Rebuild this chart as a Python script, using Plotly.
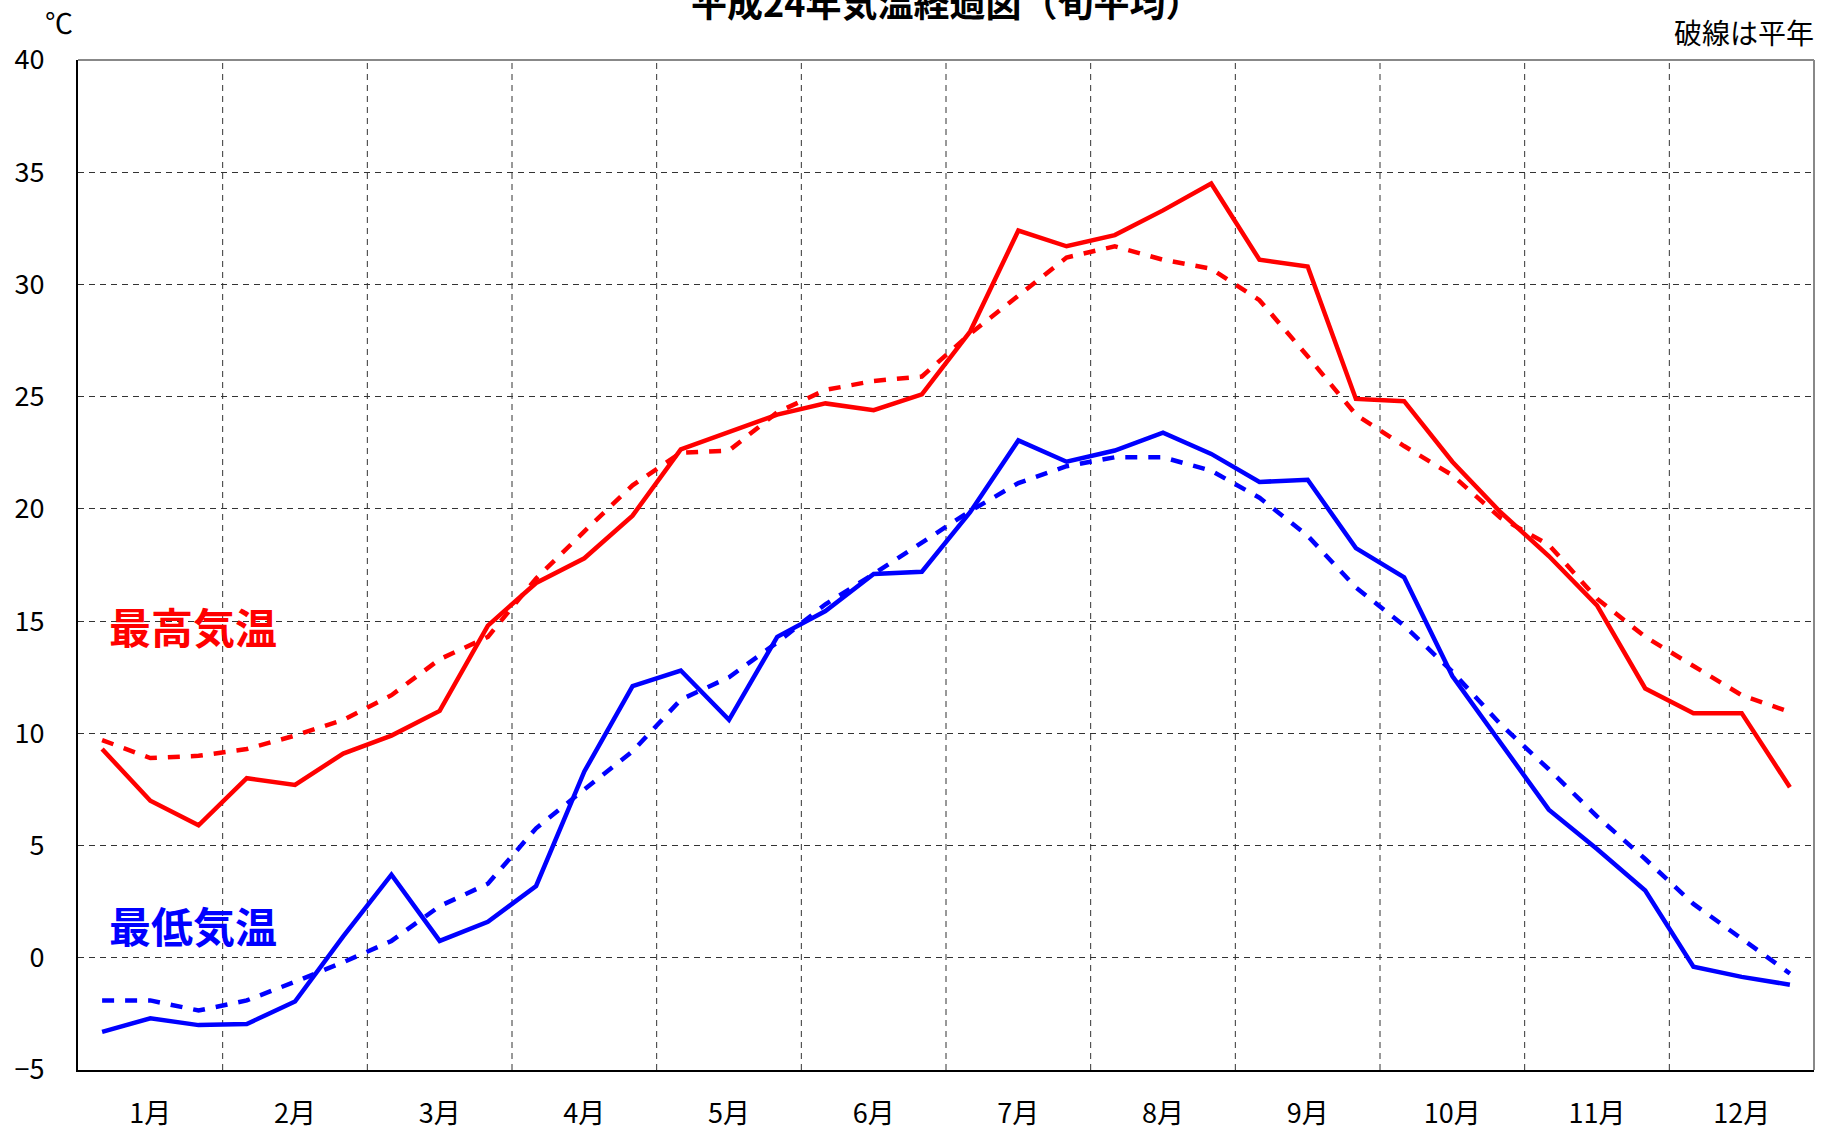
import plotly.graph_objects as go

# 36 旬 (10-day periods), Jan上旬 ... Dec下旬
max_2012 = [9.3, 7.0, 5.9, 8.0, 7.7, 9.1, 9.9, 11.0, 14.8, 16.7, 17.8, 19.7,
            22.65, 23.4, 24.2, 24.7, 24.4, 25.1, 27.9, 32.4, 31.7, 32.2, 33.3, 34.5,
            31.1, 30.8, 24.9, 24.8, 22.1, 19.85, 17.9, 15.7, 12.0, 10.9, 10.9, 7.6]
max_normal = [9.7, 8.9, 9.0, 9.3, 9.9, 10.6, 11.7, 13.3, 14.3, 16.9, 19.0, 21.05,
              22.5, 22.6, 24.3, 25.3, 25.7, 25.9, 27.8, 29.5, 31.2, 31.7, 31.1, 30.7,
              29.3, 26.8, 24.2, 22.8, 21.5, 19.6, 18.4, 16.0, 14.3, 13.0, 11.7, 10.95]
min_2012 = [-3.3, -2.7, -3.0, -2.95, -1.95, 0.95, 3.7, 0.75, 1.6, 3.2, 8.3, 12.1,
            12.8, 10.6, 14.3, 15.45, 17.1, 17.2, 19.85, 23.05, 22.1, 22.6, 23.4, 22.45,
            21.2, 21.3, 18.25, 16.95, 12.55, 9.55, 6.6, 4.85, 3.0, -0.4, -0.85, -1.2]
min_normal = [-1.9, -1.9, -2.35, -1.9, -1.07, -0.2, 0.75, 2.3, 3.3, 5.77, 7.5, 9.2,
              11.5, 12.5, 14.05, 15.75, 17.1, 18.5, 19.9, 21.15, 21.9, 22.3, 22.3, 21.7,
              20.5, 18.8, 16.5, 14.8, 12.75, 10.4, 8.4, 6.3, 4.4, 2.4, 0.85, -0.7]
month_labels = ["1月", "2月", "3月", "4月", "5月", "6月",
                "7月", "8月", "9月", "10月", "11月", "12月"]
y_ticks = [-5, 0, 5, 10, 15, 20, 25, 30, 35, 40]

x = [i + 0.5 for i in range(len(max_2012))]
FONT = "Noto Sans CJK JP"
RED = "#ff0000"
BLUE = "#0000ff"

fig = go.Figure()
fig.add_trace(go.Scatter(x=x, y=max_normal, mode="lines",
                         line=dict(color=RED, width=4.5, dash="12px,11px")))
fig.add_trace(go.Scatter(x=x, y=min_normal, mode="lines",
                         line=dict(color=BLUE, width=4.5, dash="12px,11px")))
fig.add_trace(go.Scatter(x=x, y=max_2012, mode="lines",
                         line=dict(color=RED, width=4.5)))
fig.add_trace(go.Scatter(x=x, y=min_2012, mode="lines",
                         line=dict(color=BLUE, width=4.5)))

fig.update_xaxes(range=[0, 36], tickvals=[1.5 + 3 * k for k in range(12)],
                 ticktext=month_labels, showgrid=False, zeroline=False,
                 showline=True, linecolor="#000", linewidth=2,
                 ticks="", ticklabelstandoff=19, automargin=False,
                 tickfont=dict(family=FONT, size=27, color="#000"))
fig.update_yaxes(range=[-5, 40], tickvals=y_ticks, showgrid=True,
                 gridcolor="#333", gridwidth=1, griddash="6px,5px",
                 zeroline=False, showline=True, linecolor="#000", linewidth=2,
                 ticks="", ticklabelstandoff=26, automargin=False,
                 tickfont=dict(family=FONT, size=27, color="#000"))

for k in range(1, 12):
    fig.add_shape(type="line", xref="x", yref="paper", x0=3 * k, x1=3 * k,
                  y0=0, y1=1, line=dict(color="#333", width=1, dash="6px,5px"),
                  layer="below")
# top and right frame in gray
fig.add_shape(type="line", xref="paper", yref="paper", x0=0, x1=1, y0=1, y1=1,
              line=dict(color="#888", width=2))
fig.add_shape(type="line", xref="paper", yref="paper", x0=1, x1=1, y0=0, y1=1,
              line=dict(color="#888", width=2))

fig.add_annotation(text="<b>最高気温</b>", x=0.6, y=14.8, xref="x", yref="y",
                   xanchor="left", yanchor="middle", showarrow=False,
                   font=dict(family=FONT, size=42, color=RED))
fig.add_annotation(text="<b>最低気温</b>", x=0.6, y=1.5, xref="x", yref="y",
                   xanchor="left", yanchor="middle", showarrow=False,
                   font=dict(family=FONT, size=42, color=BLUE))
fig.add_annotation(text="破線は平年", x=1, y=1, xref="paper", yref="paper",
                   xanchor="right", yanchor="bottom", yshift=6, xshift=2,
                   showarrow=False,
                   font=dict(family=FONT, size=28, color="#000"))
fig.add_annotation(text="℃", x=0, y=1, xref="paper", yref="paper",
                   xanchor="right", yanchor="bottom", xshift=-3, yshift=16,
                   showarrow=False,
                   font=dict(family=FONT, size=28, color="#000"))
# title, partly above the top edge as in the original
fig.add_annotation(text="<b>平成24年気温経過図（旬平均）</b>", x=0.5, y=1,
                   xref="paper", yref="paper", xanchor="center",
                   yanchor="middle", yshift=59, showarrow=False,
                   font=dict(family=FONT, size=36, color="#000"))

fig.update_layout(
    width=1821, height=1132,
    margin=dict(l=78, r=7, t=60, b=62),
    paper_bgcolor="white", plot_bgcolor="white",
    showlegend=False,
)

fig.write_html("out.html", config={"displayModeBar": False},
               post_script="document.body.style.margin='0';"
                           "document.body.style.overflow='hidden';")
